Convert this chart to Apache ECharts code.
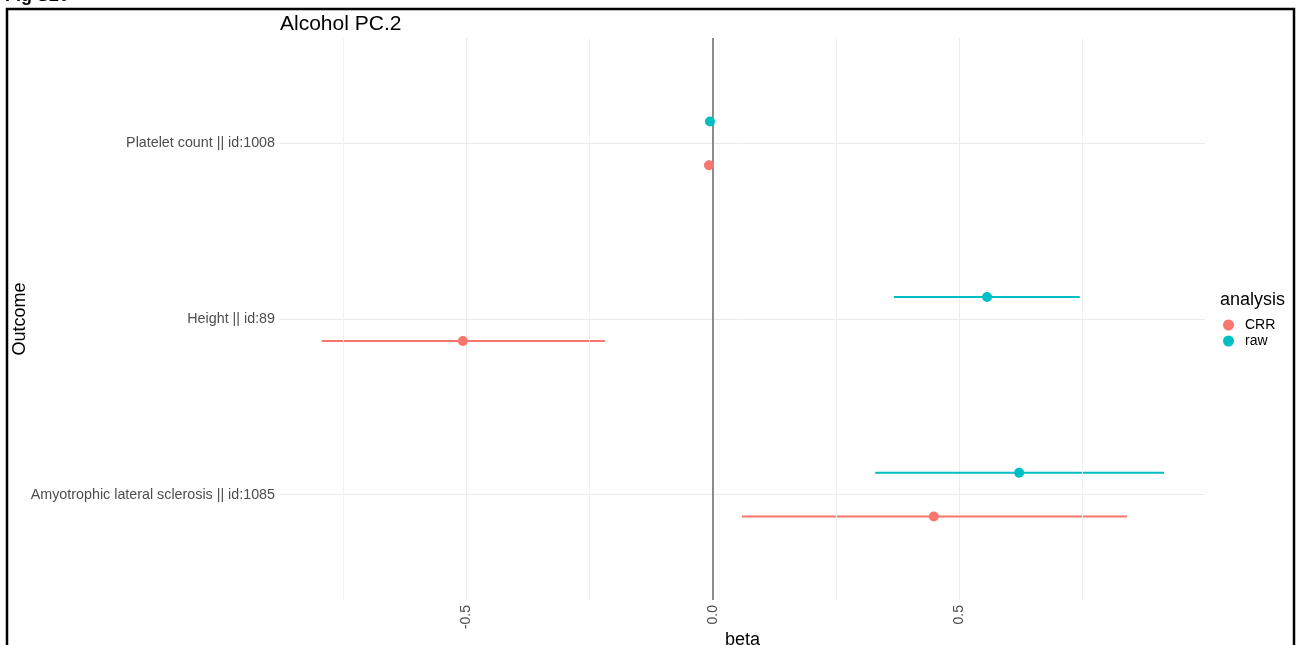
<!DOCTYPE html>
<html>
<head>
<meta charset="utf-8">
<script src="https://cdn.jsdelivr.net/npm/echarts@6/dist/echarts.min.js"></script>
<style>
html,body{margin:0;padding:0;background:#fff;}
#chart{width:1298px;height:645px;}
</style>
</head>
<body>
<div id="chart"></div>
<script>
// ---- data ----
const outcomes = ['Amyotrophic lateral sclerosis || id:1085', 'Height || id:89', 'Platelet count || id:1008'];
const analyses = ['CRR', 'raw'];
const crrBeta = [0.448, -0.507, -0.008];
const crrLow  = [0.059, -0.793, -0.012];
const crrHigh = [0.840, -0.219, -0.004];
const rawBeta = [0.621, 0.556, -0.006];
const rawLow  = [0.329, 0.367, -0.010];
const rawHigh = [0.915, 0.744, -0.002];
const xMajorTicks = [-0.5, 0.0, 0.5];
const xMinorTicks = [-0.75, -0.25, 0.25, 0.75];
const zeroLine = [0];

const colors = {CRR: '#F8766D', raw: '#00BFC4'};
const dodge = {CRR: -0.125, raw: 0.125};
const font = 'Liberation Sans, Arial, sans-serif';

function pointData(beta, name) {
  return beta.map((b, i) => [b, i + 1 + dodge[name]]);
}
function barData(low, high, name) {
  return low.map((l, i) => [l, high[i], i + 1 + dodge[name]]);
}
function errRender(params, api) {
  const p1 = api.coord([api.value(0), api.value(2)]);
  const p2 = api.coord([api.value(1), api.value(2)]);
  return {
    type: 'line',
    shape: {x1: p1[0], y1: p1[1], x2: p2[0], y2: p2[1]},
    style: {stroke: api.visual('color'), lineWidth: 2}
  };
}

const chart = echarts.init(document.getElementById('chart'), null, {renderer: 'canvas'});
const option = {
  animation: false,
  backgroundColor: '#fff',
  textStyle: {fontFamily: font},
  title: {
    text: 'Alcohol PC.2', left: 275, top: 9,
    textStyle: {fontFamily: font, fontSize: 21, fontWeight: 'normal', color: '#000'}
  },
  graphic: [
    {type: 'rect', shape: {x: 7, y: 9, width: 1287, height: 660}, style: {fill: 'none', stroke: '#000', lineWidth: 2.5}, silent: true},
    {type: 'text', left: 5, top: -13, style: {text: 'Fig S20', font: 'bold 18px ' + font, fill: '#000'}, silent: true},
    {type: 'text', left: 1220, top: 291, style: {text: 'analysis', font: '18px ' + font, fill: '#000'}, silent: true}
  ],
  legend: {
    data: analyses,
    orient: 'vertical',
    left: 1223, top: 318, padding: 0,
    itemWidth: 11, itemHeight: 11, itemGap: 2,
    icon: 'circle',
    textStyle: {fontFamily: font, fontSize: 14, color: '#000', padding: [0, 0, 0, 6]}
  },
  grid: {left: 280, right: 93, top: 38, bottom: 45, containLabel: false, outerBoundsMode: 'none'},
  xAxis: {
    type: 'value', min: -0.878, max: 0.998,
    name: 'beta', nameLocation: 'middle', nameGap: 31, nameMoveOverlap: false,
    nameTextStyle: {fontFamily: font, fontSize: 18, color: '#000'},
    axisLine: {show: false},
    axisTick: {show: false, customValues: xMajorTicks},
    axisLabel: {customValues: xMajorTicks, rotate: 90, margin: 5, fontSize: 14, color: '#4D4D4D', fontFamily: font,
      formatter: v => v.toFixed(1)},
    splitLine: {show: true, lineStyle: {color: '#EBEBEB', width: 1}}
  },
  yAxis: {
    type: 'value', min: 0.4, max: 3.6,
    name: 'Outcome', nameLocation: 'middle', nameGap: 251, nameRotate: 90, nameMoveOverlap: false,
    nameTextStyle: {fontFamily: font, fontSize: 18, color: '#000'},
    axisLine: {show: false},
    axisTick: {show: false, customValues: [1, 2, 3]},
    axisLabel: {customValues: [1, 2, 3], margin: 5, fontSize: 14.3, color: '#4D4D4D', fontFamily: font,
      formatter: v => outcomes[Math.round(v) - 1]},
    splitLine: {show: true, lineStyle: {color: '#EBEBEB', width: 1}}
  },
  series: [
    {
      type: 'line', data: [], silent: true, z: 1,
      markLine: {
        silent: true, symbol: 'none', label: {show: false},
        lineStyle: {color: '#F0F0F0', width: 1, type: 'solid'},
        data: xMinorTicks.map(v => ({xAxis: v}))
      }
    },
    {
      type: 'line', data: [], silent: true, z: 3,
      markLine: {
        silent: true, symbol: 'none', label: {show: false},
        lineStyle: {color: '#808080', width: 1.8, type: 'solid'},
        data: zeroLine.map(v => ({xAxis: v}))
      }
    },
    {name: 'CRR', type: 'custom', renderItem: errRender, data: barData(crrLow, crrHigh, 'CRR'),
      itemStyle: {color: colors.CRR}, encode: {x: [0, 1], y: 2}, z: 4, silent: true},
    {name: 'raw', type: 'custom', renderItem: errRender, data: barData(rawLow, rawHigh, 'raw'),
      itemStyle: {color: colors.raw}, encode: {x: [0, 1], y: 2}, z: 4, silent: true},
    {name: 'CRR', type: 'scatter', data: pointData(crrBeta, 'CRR'), symbolSize: 10,
      itemStyle: {color: colors.CRR, opacity: 1}, z: 5},
    {name: 'raw', type: 'scatter', data: pointData(rawBeta, 'raw'), symbolSize: 10,
      itemStyle: {color: colors.raw, opacity: 1}, z: 5}
  ]
};
chart.setOption(option);
</script>
</body>
</html>
